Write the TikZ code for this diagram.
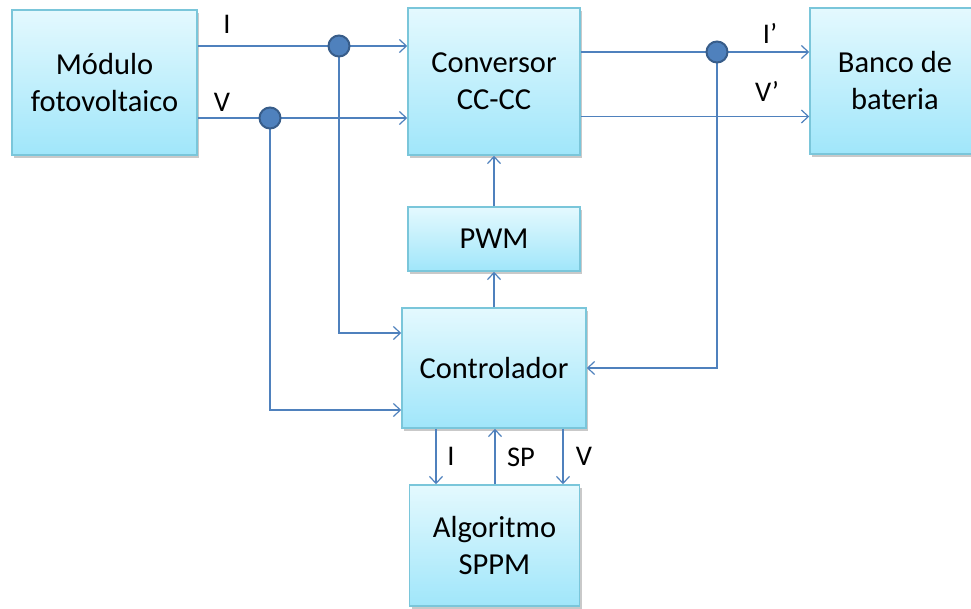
\documentclass[tikz,border=0pt]{standalone}
\usepackage{fontspec}
\setmainfont{Carlito}
\usetikzlibrary{arrows.meta,shadows}
\definecolor{wireblue}{RGB}{79,129,189}
\definecolor{dotedge}{RGB}{56,93,138}
\definecolor{boxedge}{RGB}{122,198,218}
\definecolor{boxtop}{RGB}{228,249,254}
\definecolor{boxbot}{RGB}{160,230,250}
\tikzset{
  blk/.style={draw=boxedge, line width=1.5pt, top color=boxtop, bottom color=boxbot,
    align=center, text=black, font=\fontsize{30.5}{37}\selectfont, inner sep=0pt,
    drop shadow={shadow xshift=2pt, shadow yshift=-3pt, opacity=0.3, fill=black!70}},
  wire/.style={draw=wireblue, line width=1.2pt, -{Straight Barb[length=7pt,width=13pt]}},
  dot/.style={circle, fill=wireblue, draw=dotedge, line width=2pt, minimum size=21pt, inner sep=0pt},
  lbl/.style={font=\fontsize{28.5}{34}\selectfont, text=black, inner sep=0pt}
}
\begin{document}
\begin{tikzpicture}[x=1pt,y=-1pt]
  \useasboundingbox (0,0) rectangle (971,608);
  % blocks
  \node[blk, minimum width=185pt, minimum height=145pt] (mod) at (104.5,82.5) {Módulo\\fotovoltaico};
  \node[blk, minimum width=172pt, minimum height=147pt] (conv) at (494,81.5) {Conversor\\CC-CC};
  \node[blk, minimum width=170pt, minimum height=146pt] (bat) at (895,81) {Banco de\\bateria};
  \node[blk, minimum width=172pt, minimum height=64pt] (pwm) at (494,239) {PWM};
  \node[blk, minimum width=184pt, minimum height=120pt] (ctrl) at (494,368) {Controlador};
  \node[blk, minimum width=170pt, minimum height=121pt] (alg) at (494.5,545.5) {Algoritmo\\SPPM};
  % junctions
  \coordinate (jI) at (339,46);
  \coordinate (jV) at (270,118);
  \coordinate (jO) at (717,52);
  \coordinate (vout) at ([yshift=-35pt]conv.east);
  \coordinate (aI) at ([xshift=-58pt]ctrl.south);
  \coordinate (aSP) at ([xshift=1pt]ctrl.south);
  \coordinate (aV) at ([xshift=69pt]ctrl.south);
  % wires
  \draw[wire] (mod.east |- jI) -- (conv.west |- jI);
  \draw[wire] (mod.east |- jV) -- (conv.west |- jV);
  \draw[wire] (jI) |- ([yshift=35pt]ctrl.west);
  \draw[wire] (jV) |- ([yshift=-42pt]ctrl.west);
  \draw[wire] (conv.east |- jO) -- (bat.west |- jO);
  \draw[wire] (vout) -- (vout -| bat.west);
  \draw[wire] (jO) |- (ctrl.east);
  \draw[wire] (ctrl.north) -- (pwm.south);
  \draw[wire] (pwm.north) -- (conv.south);
  \draw[wire] (aI) -- (aI |- alg.north);
  \draw[wire] (aSP |- alg.north) -- (aSP);
  \draw[wire] (aV) -- (aV |- alg.north);
  % dots
  \node[dot] (dI) at (jI) {};
  \node[dot] (dV) at (jV) {};
  \node[dot] (dO) at (jO) {};
  % labels
  \node[lbl] (lI) at (227,24) {I};
  \node[lbl] (lV) at (222,102) {V};
  \node[lbl] (lIo) at (770,33) {I’};
  \node[lbl] (lVo) at (767,91) {V’};
  \node[lbl] (lIa) at (451,456) {I};
  \node[lbl] (lSP) at (521,457) {SP};
  \node[lbl] (lVa) at (584,456) {V};
\end{tikzpicture}
\end{document}
